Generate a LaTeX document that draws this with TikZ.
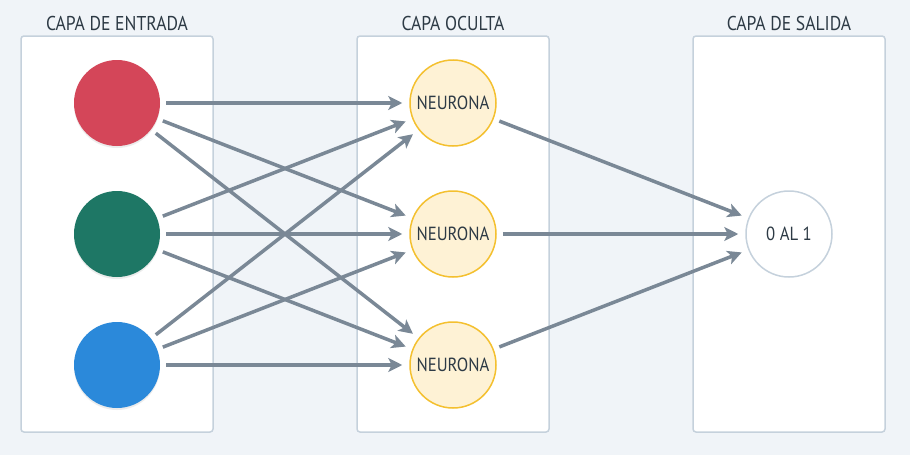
\documentclass[tikz,border=0pt]{standalone}
\usepackage{fontspec}
\setmainfont{PT Sans}
\newfontfamily\narrowfont[FakeStretch=0.88]{PT Sans}
\usetikzlibrary{arrows.meta,shadows}
\definecolor{bg}{HTML}{F0F4F8}
\definecolor{boxline}{HTML}{C5D1DC}
\definecolor{txt}{HTML}{2D3A45}
\definecolor{cred}{HTML}{D44659}
\definecolor{cgreen}{HTML}{1E7765}
\definecolor{cblue}{HTML}{2B89DA}
\definecolor{hfill}{HTML}{FEF2D5}
\definecolor{hline}{HTML}{F4C02F}
\definecolor{arr}{HTML}{7A8896}
\begin{document}
\begin{tikzpicture}[x=1pt,y=-1pt,
  layerbox/.style={draw=boxline,fill=white,line width=1.5pt,rounded corners=3pt},
  title/.style={text=txt,font=\narrowfont\fontsize{20}{24}\selectfont,anchor=center},
  inneuron/.style={circle,minimum size=86pt,inner sep=0pt,draw=none,drop shadow={opacity=0.15,shadow xshift=0pt,shadow yshift=-2pt}},
  hidneuron/.style={circle,minimum size=86pt,inner sep=0pt,draw=hline,fill=hfill,line width=1.5pt,text=txt,font=\narrowfont\fontsize{19}{22}\selectfont},
  outneuron/.style={circle,minimum size=86pt,inner sep=0pt,draw=boxline,fill=white,line width=1.5pt,text=txt,font=\narrowfont\fontsize{19}{22}\selectfont},
  link/.style={draw=arr,line width=3.5pt,-{Stealth[length=14pt,width=14pt,inset=3.5pt]},shorten <=6pt,shorten >=7pt}
]
\fill[bg] (0,0) rectangle (910,455);
\useasboundingbox (0,0) rectangle (910,455);
% layer boxes
\draw[layerbox] (21,36) rectangle (213,432);
\draw[layerbox] (357,36) rectangle (549,432);
\draw[layerbox] (693,36) rectangle (885,432);
\node[title] (t1) at (117,23) {CAPA DE ENTRADA};
\node[title] (t2) at (453,23) {CAPA OCULTA};
\node[title] (t3) at (789,23) {CAPA DE SALIDA};
% input
\node[inneuron,fill=cred] (i1) at (117,103) {};
\node[inneuron,fill=cgreen] (i2) at (117,234) {};
\node[inneuron,fill=cblue] (i3) at (117,365) {};
% hidden
\node[hidneuron] (h1) at (453,103) {NEURONA};
\node[hidneuron] (h2) at (453,234) {NEURONA};
\node[hidneuron] (h3) at (453,365) {NEURONA};
% output
\node[outneuron] (o) at (789,234) {0 AL 1};
% links
\foreach \a in {i1,i2,i3}{
  \foreach \b in {h1,h2,h3}{
    \draw[link] (\a) -- (\b);
  }
}
\foreach \b in {h1,h2,h3}{
  \draw[link] (\b) -- (o);
}
\end{tikzpicture}
\end{document}
